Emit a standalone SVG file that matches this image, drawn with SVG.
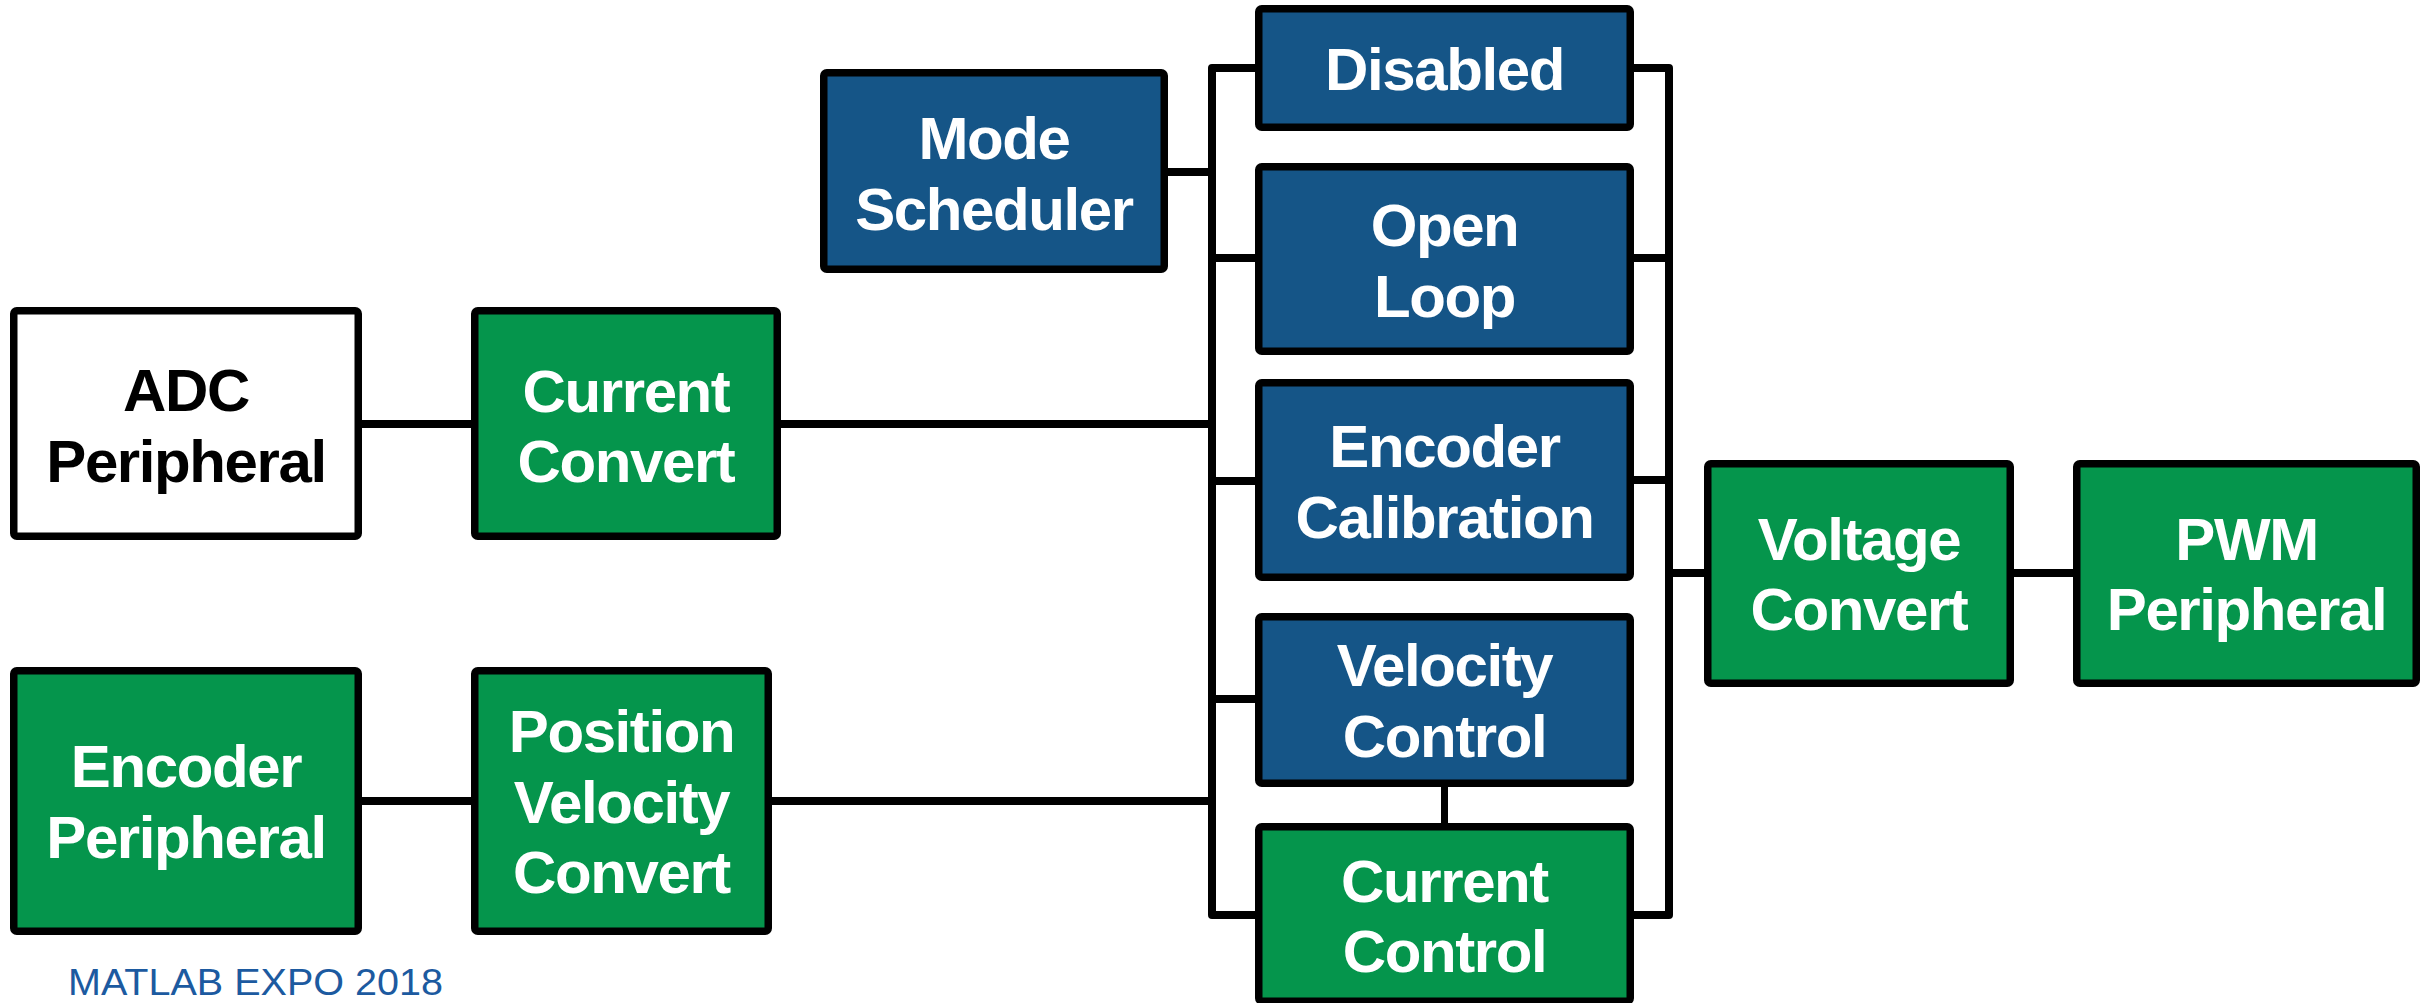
<svg xmlns="http://www.w3.org/2000/svg" width="2427" height="1003" viewBox="0 0 2427 1003">
  <style>
    .box { stroke: #000; stroke-width: 7.5; stroke-linejoin: round; }
    .blue { fill: #155587; }
    .green { fill: #05954c; }
    .white { fill: #ffffff; }
    .lbl { font-family: "Liberation Sans", Arial, Helvetica, sans-serif; font-weight: bold; font-size: 60px; letter-spacing: -1.4px; text-anchor: middle; }
    .lt { fill: #ffffff; }
    .dk { fill: #000000; }
    .wire { fill: none; stroke: #000; stroke-width: 8; stroke-linejoin: round; stroke-linecap: butt; }
    .brand { font-family: "Liberation Sans", Arial, sans-serif; font-size: 37px; fill: #1c5aa0; }
  </style>

  <!-- connectors -->
  <g id="connectors">
    <path class="wire" d="M362,424 H471"/>
    <path class="wire" d="M781,424 H1212"/>
    <path class="wire" d="M362,801 H471"/>
    <path class="wire" d="M772,801 H1212"/>
    <path class="wire" d="M1168,172 H1212"/>
    <!-- left distribution bus -->
    <path class="wire" d="M1255,68 H1212 V915 H1255"/>
    <path class="wire" d="M1212,258 H1255"/>
    <path class="wire" d="M1212,481 H1255"/>
    <path class="wire" d="M1212,699 H1255"/>
    <!-- right collection bus -->
    <path class="wire" d="M1634,68 H1669 V915 H1634"/>
    <path class="wire" d="M1634,258 H1669"/>
    <path class="wire" d="M1634,480 H1669"/>
    <path class="wire" d="M1669,573 H1704"/>
    <path class="wire" d="M2014,573 H2073"/>
    <!-- velocity loop feeds current loop -->
    <path class="wire" d="M1444.5,787 V823" style="stroke-width:7"/>
  </g>

  <g id="adc-peripheral">
    <rect class="box white" x="13.75" y="310.75" width="344.5" height="225.5" rx="3"/>
    <text class="lbl dk" x="186" y="411">ADC</text>
    <text class="lbl dk" x="186" y="482">Peripheral</text>
  </g>

  <g id="current-convert">
    <rect class="box green" x="474.75" y="310.75" width="302.5" height="225.5" rx="3"/>
    <text class="lbl lt" x="626" y="412">Current</text>
    <text class="lbl lt" x="626" y="482">Convert</text>
  </g>

  <g id="encoder-peripheral">
    <rect class="box green" x="13.75" y="670.75" width="344.5" height="260.5" rx="3"/>
    <text class="lbl lt" x="186" y="787">Encoder</text>
    <text class="lbl lt" x="186" y="858">Peripheral</text>
  </g>

  <g id="position-velocity-convert">
    <rect class="box green" x="474.75" y="670.75" width="293.5" height="260.5" rx="3"/>
    <text class="lbl lt" x="621.5" y="752">Position</text>
    <text class="lbl lt" x="621.5" y="823">Velocity</text>
    <text class="lbl lt" x="621.5" y="893">Convert</text>
  </g>

  <g id="mode-scheduler">
    <rect class="box blue" x="823.75" y="72.75" width="340.5" height="196.5" rx="3"/>
    <text class="lbl lt" x="994" y="159">Mode</text>
    <text class="lbl lt" x="994" y="230">Scheduler</text>
  </g>

  <g id="disabled">
    <rect class="box blue" x="1258.75" y="8.75" width="371.5" height="118.5" rx="3"/>
    <text class="lbl lt" x="1444.5" y="90">Disabled</text>
  </g>

  <g id="open-loop">
    <rect class="box blue" x="1258.75" y="166.75" width="371.5" height="184.5" rx="3"/>
    <text class="lbl lt" x="1444.5" y="245.5">Open</text>
    <text class="lbl lt" x="1444.5" y="316.5">Loop</text>
  </g>

  <g id="encoder-calibration">
    <rect class="box blue" x="1258.75" y="382.75" width="371.5" height="194.5" rx="3"/>
    <text class="lbl lt" x="1444.5" y="467">Encoder</text>
    <text class="lbl lt" x="1444.5" y="538">Calibration</text>
  </g>

  <g id="velocity-control">
    <rect class="box blue" x="1258.75" y="616.75" width="371.5" height="166.5" rx="3"/>
    <text class="lbl lt" x="1444.5" y="686">Velocity</text>
    <text class="lbl lt" x="1444.5" y="757">Control</text>
  </g>

  <g id="current-control">
    <rect class="box green" x="1258.75" y="826.75" width="371.5" height="174.5" rx="3"/>
    <text class="lbl lt" x="1444.5" y="902">Current</text>
    <text class="lbl lt" x="1444.5" y="972">Control</text>
  </g>

  <g id="voltage-convert">
    <rect class="box green" x="1707.75" y="463.75" width="302.5" height="219.5" rx="3"/>
    <text class="lbl lt" x="1859" y="560">Voltage</text>
    <text class="lbl lt" x="1859" y="630">Convert</text>
  </g>

  <g id="pwm-peripheral">
    <rect class="box green" x="2076.75" y="463.75" width="339.5" height="219.5" rx="3"/>
    <text class="lbl lt" x="2246.5" y="560">PWM</text>
    <text class="lbl lt" x="2246.5" y="630">Peripheral</text>
  </g>

  <text class="brand" x="68" y="995" textLength="375" lengthAdjust="spacingAndGlyphs">MATLAB EXPO 2018</text>
</svg>
